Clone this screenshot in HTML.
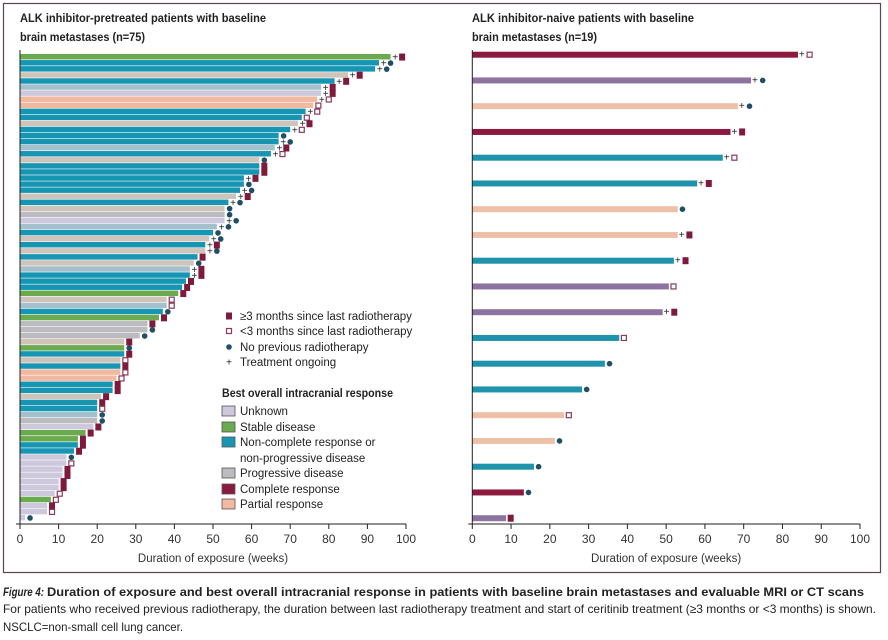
<!DOCTYPE html>
<html><head><meta charset="utf-8"><style>
html,body{margin:0;padding:0;background:#fff;}
svg{display:block;font-family:"Liberation Sans",sans-serif;}
</style></head><body>
<svg id="chart" width="888" height="640" viewBox="0 0 888 640" xmlns="http://www.w3.org/2000/svg">
<rect x="3.5" y="3.5" width="877" height="569" fill="none" stroke="#5e4353" stroke-width="1.2"/>
<text x="20" y="22" font-size="12" font-weight="bold" fill="#222" textLength="246" lengthAdjust="spacingAndGlyphs">ALK inhibitor-pretreated patients with baseline</text>
<text x="20" y="41" font-size="12" font-weight="bold" fill="#222" textLength="125" lengthAdjust="spacingAndGlyphs">brain metastases (n=75)</text>
<text x="472" y="22" font-size="12" font-weight="bold" fill="#222" textLength="222" lengthAdjust="spacingAndGlyphs">ALK inhibitor-naive patients with baseline</text>
<text x="472" y="41" font-size="12" font-weight="bold" fill="#222" textLength="125" lengthAdjust="spacingAndGlyphs">brain metastases (n=19)</text>
<g id="left"></g>
<g id="right"></g>
<g id="legend"></g>
<text x="3" y="596" font-size="12" font-style="italic" font-weight="bold" fill="#222" textLength="41" lengthAdjust="spacingAndGlyphs">Figure 4:</text>
<text x="47" y="596" font-size="12" font-weight="bold" fill="#222" textLength="817" lengthAdjust="spacingAndGlyphs">Duration of exposure and best overall intracranial response in patients with baseline brain metastases and evaluable MRI or CT scans</text>
<text x="3" y="613" font-size="12" fill="#222" textLength="873" lengthAdjust="spacingAndGlyphs">For patients who received previous radiotherapy, the duration between last radiotherapy treatment and start of ceritinib treatment (≥3 months or &lt;3 months) is shown.</text>
<text x="3" y="631" font-size="12" fill="#222" textLength="180" lengthAdjust="spacingAndGlyphs">NSCLC=non-small cell lung cancer.</text>
</svg>
<script>
// Left panel data
const leftValues = [96,93,92,85,81.5,78,78,77,76,74,73,72,70,67,67,66,65,62,62,62,58,58,57,56,54,53,53,53,51,50,49,48,48,46,45,44,44,43,42,41,38,38,37,36,33,33,31,27,27,27,26,26,26,25,24,24,21,20,20,20,20,19,17,15,15,14,12,12,11,11,10,10,9,8,7,7,1.3];
const leftCats = ["G","B","B","T","B","l","U","P","P","B","B","T","B","B","B","l","B","T","B","B","B","B","B","T","B","T","g","U","l","B","T","B","T","B","T","l","B","B","B","G","T","l","B","G","g","g","g","T","G","B","T","B","P","P","B","B","T","B","B","l","g","U","G","G","B","B","U","U","U","U","U","U","U","G","U","U","U"];
const leftMarkers = ["s","c","c","s","s","s","s","o","o","o","o","s","o","c","c","s","o","c","s","s","s","c","c","s","c","c","c","c","c","c","c","s","c","s","c","s","s","s","s","s","o","o","c","s","s","c","c","s","c","s","o","s","o","o","s","s","s","s","o","c","c","s","s","s","s","s","c","o","s","s","s","s","o","o","s","o","c"];
const leftOngoing = [1,1,1,1,1,1,1,1,0,1,0,1,1,0,1,1,1,0,0,0,1,0,1,1,1,0,0,1,1,0,1,1,1,0,0,1,1,0,0,0,0,0,0,0,0,0,0,0,0,0,0,0,0,0,0,0,0,0,0,0,0,0,0,0,0,0,0,0,0,0,0,0,0,0,0,0,0];
// Right panel data
const rightValues = [84,71.9,68.5,66.6,64.6,58,53,53,52,50.7,49.1,37.9,34.2,28.3,23.7,21.3,15.9,13.3,8.7];
const rightCats = ["C","U","P","C","B","B","P","P","B","U","U","B","B","B","P","P","B","C","U"];
const rightMarkers = ["o","c","c","s","o","s","c","s","s","o","s","o","c","c","o","c","c","c","s"];
const rightOngoing = [1,1,1,1,1,1,0,1,1,0,1,0,0,0,0,0,0,0,0];
const xTicks = [0,10,20,30,40,50,60,70,80,90,100];

const NS="http://www.w3.org/2000/svg";
function mk(parent,tag,attrs){const e=document.createElementNS(NS,tag);for(const k in attrs)e.setAttribute(k,attrs[k]);parent.appendChild(e);return e;}
const leftColors={G:"#6bab4f",B:"#1796b4",T:"#cec4ba",l:"#a3c0cc",U:"#cdc8db",P:"#f2b9a0",g:"#bcbbc0",C:"#8c1a3e"};
const rightColors={C:"#8c1a3e",U:"#8c73a0",P:"#efc0a8",B:"#1f93ac"};

function marker(g,cx,cy,type){
  let e;
  if(type==="s"){e=mk(g,"rect",{x:cx-3,y:cy-3.5,width:6,height:7,fill:"#7e1a3c"});}
  else if(type==="o"){e=mk(g,"rect",{x:cx-2.5,y:cy-2.5,width:5,height:5,fill:"#fff",stroke:"#8a3a5a","stroke-width":1.2});}
  else {e=mk(g,"circle",{cx:cx,cy:cy,r:2.8,fill:"#1f4e66"});}
  
}
function plus(g,cx,cy){
  const t=mk(g,"text",{x:cx,y:cy+3.5,"font-size":10,"text-anchor":"middle",fill:"#222"});
  t.textContent="+";
  
  
}
function axis(g,x0,x1,y,top,label){
  const sx=v=>x0+(x1-x0)*v/100;
  let l=mk(g,"line",{x1:x0,y1:top,x2:x0,y2:y,stroke:"#222","stroke-width":1});
  
  l=mk(g,"line",{x1:x0-4,y1:y,x2:x1,y2:y,stroke:"#222","stroke-width":1});
  
  xTicks.forEach(v=>{
    const t=mk(g,"line",{x1:sx(v),y1:y,x2:sx(v),y2:y+5,stroke:"#222","stroke-width":1});
    
    const tx=mk(g,"text",{x:sx(v),y:y+19,"font-size":12,"text-anchor":"middle",fill:"#333"});
    tx.textContent=v;
    
  });
  const ti=mk(g,"text",{x:(x0+x1)/2,y:y+38,"font-size":11.5,"text-anchor":"middle",fill:"#333"});
  ti.textContent=label;
  
  return sx;
}
// LEFT
(function(){
  const g=document.getElementById("left");
  const x0=20,x1=406,top=54,bot=521;
  const sx=v=>x0+(x1-x0)*v/100;
  const n=leftValues.length,h=(bot-top)/n;
  leftValues.forEach((v,i)=>{
    const y=top+i*h;
    const r=mk(g,"rect",{x:x0,y:y,width:sx(v)-x0,height:h-0.6,fill:leftColors[leftCats[i]]});
    
    const cy=y+h/2;
    if(leftOngoing[i]){plus(g,sx(v+1.2),cy);marker(g,sx(v+3.0),cy,leftMarkers[i]);}
    else marker(g,sx(v+1.3),cy,leftMarkers[i]);
  });
  axis(g,x0,x1,524,50,"Duration of exposure (weeks)");
})();
// RIGHT
(function(){
  const g=document.getElementById("right");
  const x0=472.3,x1=860,top=54.7,step=25.75;
  const sx=v=>x0+(x1-x0)*v/100;
  rightValues.forEach((v,i)=>{
    const cy=top+i*step;
    const r=mk(g,"rect",{x:x0,y:cy-3,width:sx(v)-x0,height:6,fill:rightColors[rightCats[i]]});
    
    if(rightOngoing[i]){plus(g,sx(v+1.0),cy-0.5);marker(g,sx(v+3.0),cy,rightMarkers[i]);}
    else marker(g,sx(v+1.2),cy,rightMarkers[i]);
  });
  axis(g,x0,x1,524,50,"Duration of exposure (weeks)");
})();
// LEGEND
(function(){
  const g=document.getElementById("legend");
  const mItems=[["s","≥3 months since last radiotherapy",316],["o","<3 months since last radiotherapy",331],["c","No previous radiotherapy",347],["p","Treatment ongoing",362]];
  mItems.forEach(it=>{
    if(it[0]==="p")plus(g,229,it[2]);else marker(g,229,it[2],it[0]);
    const t=mk(g,"text",{x:240,y:it[2]+4,"font-size":11.5,fill:"#222"});
    t.textContent=it[1];
    
  });
  const h=mk(g,"text",{x:222,y:397,"font-size":11.5,"font-weight":"bold",fill:"#222",textLength:171,lengthAdjust:"spacingAndGlyphs"});
  h.textContent="Best overall intracranial response";
  
  const sItems=[["#cdc8db","Unknown",411],["#6bab4f","Stable disease",427],["#1796b4","Non-complete response or",442],[null,"non-progressive disease",458],["#bcbbc0","Progressive disease",473],["#8c1a3e","Complete response",489],["#f2b9a0","Partial response",504]];
  sItems.forEach(it=>{
    if(it[0]){const r=mk(g,"rect",{x:222,y:it[2]-5,width:13,height:10,fill:it[0],stroke:"#555","stroke-width":0.8});
      }
    const t=mk(g,"text",{x:240,y:it[2]+4,"font-size":11.5,fill:"#222"});
    t.textContent=it[1];
    
  });
})();
</script>
</body></html>
